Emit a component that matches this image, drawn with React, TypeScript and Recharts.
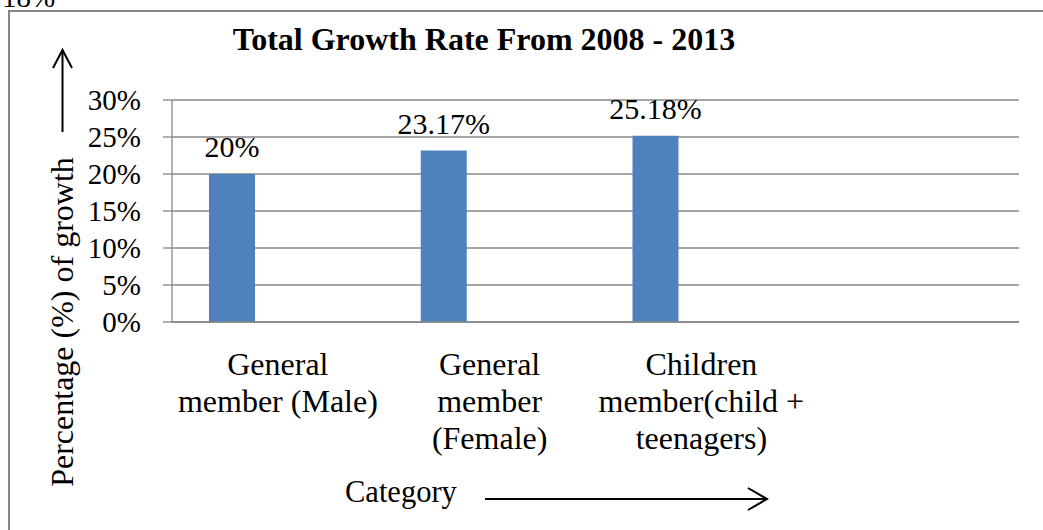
import React from "react";
import { BarChart, Bar, XAxis, YAxis, CartesianGrid, LabelList } from "recharts";

const categories = [
  "General\nmember (Male)",
  "General\nmember\n(Female)",
  "Children\nmember(child +\nteenagers)",
  "",
];
const series1 = [20, 23.17, 25.18, null];
const series2 = [null, null, null, null];
const series3 = [null, null, null, null];
const yTicks = [0, 5, 10, 15, 20, 25, 30];

const titleText = "Total Growth Rate From 2008 - 2013";
const yAxisTitle = "Percentage (%) of growth";
const xAxisTitle = "Category";

const data = categories.map((c, i) => ({
  name: c,
  s1: series1[i],
  s2: series2[i],
  s3: series3[i],
}));

const FONT = "'Liberation Serif', 'Times New Roman', serif";

const CategoryTick = (props: any) => {
  const { x, y, payload } = props;
  const lines = String(payload.value).split("\n");
  return (
    <g>
      {lines.map((ln: string, i: number) => (
        <text
          key={i}
          x={x}
          y={y + 53 + i * 37}
          textAnchor="middle"
          fontFamily={FONT}
          fontSize={32}
          fill="#000"
        >
          {ln}
        </text>
      ))}
    </g>
  );
};

export default function App() {
  return (
    <div
      style={{
        position: "absolute",
        left: 0,
        top: 0,
        width: 1043,
        height: 530,
        overflow: "hidden",
        background: "#fff",
      }}
    >
      <div
        style={{
          position: "absolute",
          left: 8,
          top: 10,
          width: 1200,
          height: 700,
          border: "2px solid #878787",
        }}
      />
      <div style={{ position: "absolute", left: 0, top: 0 }}>
        <BarChart
          width={1043}
          height={530}
          data={data}
          margin={{ top: 100, right: 24, bottom: 58, left: 112 }}
          barGap={0}
          barSize={46}
        >
          <CartesianGrid vertical={false} stroke="#878787" strokeWidth={1.3} />
          <XAxis
            dataKey="name"
            interval={0}
            tickLine={false}
            tickSize={0}
            tickMargin={0}
            height={150}
            axisLine={{ stroke: "#878787", strokeWidth: 1.3 }}
            tick={<CategoryTick />}
          />
          <YAxis
            width={60}
            domain={[0, 30]}
            ticks={yTicks}
            interval={0}
            tickFormatter={(v: number) => `${v}%`}
            tickSize={9}
            tickMargin={22}
            tickLine={{ stroke: "#878787", strokeWidth: 1.3 }}
            axisLine={{ stroke: "#878787", strokeWidth: 1.3 }}
            tick={{ fill: "#000", fontSize: 29, fontFamily: FONT }}
          />
          <Bar dataKey="s1" fill="#4F81BD" isAnimationActive={false}>
            <LabelList
              dataKey="s1"
              position="top"
              offset={17}
              formatter={(v: any) => (v == null ? "" : `${v}%`)}
              fill="#000"
              fontSize={30}
              fontFamily={FONT}
            />
          </Bar>
          <Bar dataKey="s2" fill="#C0504D" isAnimationActive={false} />
          <Bar dataKey="s3" fill="#9BBB59" isAnimationActive={false} />
        </BarChart>
      </div>
      <svg
        width={1043}
        height={530}
        style={{ position: "absolute", left: 0, top: 0, pointerEvents: "none" }}
      >
        <text x={2} y={7} fontFamily={FONT} fontSize={29} fill="#000">
          18%
        </text>
        <text
          x={484}
          y={50}
          textAnchor="middle"
          fontFamily={FONT}
          fontSize={32}
          fontWeight="bold"
          fill="#000"
        >
          {titleText}
        </text>
        <text
          transform="translate(73, 322) rotate(-90)"
          x={0}
          y={0}
          textAnchor="middle"
          fontFamily={FONT}
          fontSize={32}
          fill="#000"
        >
          {yAxisTitle}
        </text>
        <line x1={62.5} y1={132} x2={62.5} y2={51} stroke="#000" strokeWidth={2} />
        <polyline
          points="53,68 62.5,50 72,68"
          fill="none"
          stroke="#000"
          strokeWidth={2}
        />
        <text x={345} y={502} fontFamily={FONT} fontSize={30.5} fill="#000">
          {xAxisTitle}
        </text>
        <line x1={485} y1={499} x2={766} y2={499} stroke="#000" strokeWidth={2} />
        <polyline
          points="748,488 767,499 748,510"
          fill="none"
          stroke="#000"
          strokeWidth={2}
        />
      </svg>
    </div>
  );
}
